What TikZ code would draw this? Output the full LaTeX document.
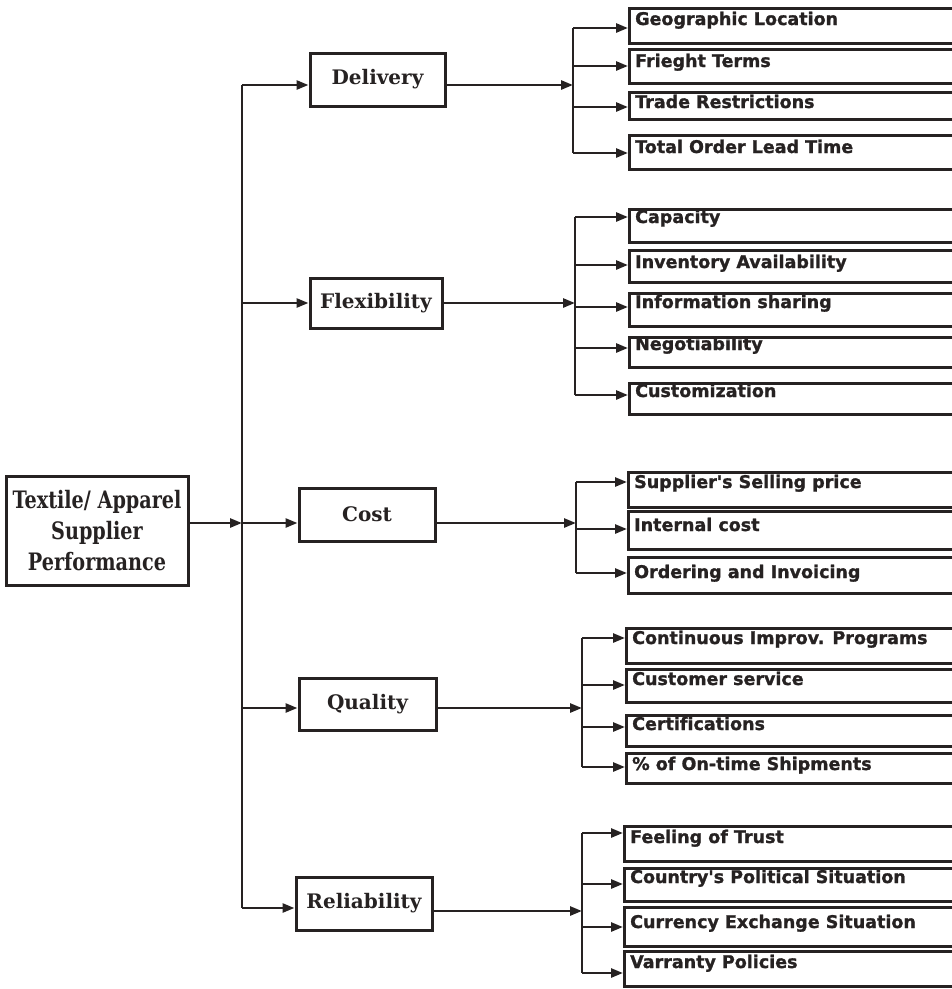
\documentclass[tikz,border=0pt]{standalone}
\usepackage{fontspec}
\usetikzlibrary{arrows.meta}
\newfontfamily\subfont[FakeBold=1.2,Ligatures=NoCommon]{DejaVu Sans}
\newfontfamily\catfont{DejaVu Serif}
\newfontfamily\rootfont[FakeStretch=0.8]{DejaVu Serif}
\definecolor{ink}{RGB}{38,34,34}
\begin{document}
\begin{tikzpicture}[x=1pt,y=-1pt,
  conn/.style={draw=ink,line width=2.6pt},
  arr/.style={conn,-{Triangle[length=12pt,width=9pt]}},
  catbox/.style={draw=ink,line width=3pt,fill=white,inner sep=0pt,
    font=\catfont\bfseries\fontsize{20}{23}\selectfont,text=ink},
  rootbox/.style={draw=ink,line width=3pt,fill=white,inner sep=0pt,align=center,
    font=\rootfont\bfseries\fontsize{24}{31}\selectfont,text=ink},
  subbox/.style={draw=ink,line width=3pt,fill=white,inner sep=0pt,anchor=north west},
  subtext/.style={anchor=base west,inner sep=0pt,text=ink,
    font=\subfont\bfseries\fontsize{17.5}{20}\selectfont}]
\useasboundingbox (0,0) rectangle (952,989);
\clip (0,0) rectangle (952,989);
\fill[white] (0,0) rectangle (952,989);

% root
\node[rootbox,minimum width=182,minimum height=109] (root) at (97,530.5)
  {Textile/ Apparel\\Supplier\\Performance};

% categories
\node[catbox,minimum width=135,minimum height=53] (del) at (377.5,79.5) {Delivery};
\node[catbox,minimum width=132,minimum height=50] (flex) at (376,303) {Flexibility};
\node[catbox,minimum width=136,minimum height=53] (cost) at (367,514.5) {Cost};
\node[catbox,minimum width=137,minimum height=52] (qual) at (367.5,704) {Quality};
\node[catbox,minimum width=136,minimum height=53] (rel) at (364,903.5) {Reliability};

% main trunk
\coordinate (tD) at (242,85);
\coordinate (tF) at (242,303);
\coordinate (tC) at (242,523);
\coordinate (tQ) at (242,708);
\coordinate (tR) at (242,908);
\draw[conn] (tD) -- (tR);
\draw[arr] (root.east |- tC) -- (tC);
\draw[arr] (tD) -- (tD -| del.west);
\draw[arr] (tF) -- (tF -| flex.west);
\draw[arr] (tC) -- (tC -| cost.west);
\draw[arr] (tQ) -- (tQ -| qual.west);
\draw[arr] (tR) -- (tR -| rel.west);

% sub trunk inputs
\coordinate (iD) at (573,85);
\coordinate (iF) at (575,303);
\coordinate (iC) at (576,523);
\coordinate (iQ) at (582,708);
\coordinate (iR) at (582,911);
\draw[arr] (del.east |- iD) -- (iD);
\draw[arr] (flex.east |- iF) -- (iF);
\draw[arr] (cost.east |- iC) -- (iC);
\draw[arr] (qual.east |- iQ) -- (iQ);
\draw[arr] (rel.east |- iR) -- (iR);

% sub items: name/trunk x/box left/top/bottom/arrow y/baseline/text
\foreach \nm/\tx/\l/\t/\b/\ay/\bl/\lab in {
  d1/573/628/7/42/28/25/Geographic Location,
  d2/573/628/48/82/66/67/Frieght Terms,
  d3/573/628/91/118/107/108/Trade Restrictions,
  d4/573/628/134/168/153/153/Total Order Lead Time,
  f1/575/628/208/241/217/223/Capacity,
  f2/575/628/249/281/265/268/Inventory Availability,
  f3/575/628/292/325/307/308/Information sharing,
  f4/575/628/336/366/348/350/Negotiability,
  f5/575/628/382/413/395/397/Customization,
  c1/576/627/471/506/482/488/Supplier's Selling price,
  c2/576/627/510/548/529/531/Internal cost,
  c3/576/627/556/592/573/578/Ordering and Invoicing,
  q1/582/625/627/662/638/644/Continuous Improv. Programs,
  q2/582/625/668/701/685/685/Customer service,
  q3/582/625/714/745/727/730/Certifications,
  q4/582/625/752/782/767/770/\% of On-time Shipments,
  r1/582/623/825/860/833/843/Feeling of Trust,
  r2/582/623/867/900/884/883/Country's Political Situation,
  r3/582/623/906/945/927/928/Currency Exchange Situation,
  r4/582/623/950/985/973/968/Varranty Policies}
{
  \node[subbox,minimum width={965-\l},minimum height={\b-\t}] (\nm) at (\l,\t) {};
  \node[subtext] (\nm t) at (\l+7,\bl) {\lab};
  \coordinate (\nm a) at (\tx,\ay);
  \draw[arr] (\nm a) -- (\nm a -| \nm.west);
}

% sub trunk verticals
\draw[conn] (d1a) -- (d4a);
\draw[conn] (f1a) -- (f5a);
\draw[conn] (c1a) -- (c3a);
\draw[conn] (q1a) -- (q4a);
\draw[conn] (r1a) -- (r4a);
\end{tikzpicture}
\end{document}
